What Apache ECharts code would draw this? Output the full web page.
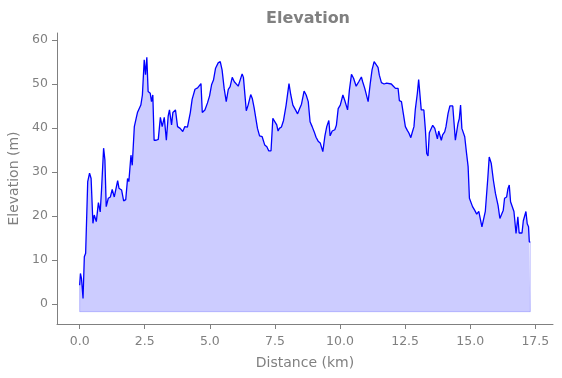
<!DOCTYPE html>
<html>
<head>
<meta charset="utf-8">
<script src="https://cdn.jsdelivr.net/npm/echarts@6/dist/echarts.min.js"></script>
<style>
html, body { margin: 0; padding: 0; background: #fff; }
#chart { width: 562px; height: 378px; }
</style>
</head>
<body>
<div id="chart"></div>
<script>
// distance along the route (km)
const dist = [
  0, 0.03, 0.07, 0.13, 0.18, 0.23, 0.31, 0.38, 0.44, 0.51,
  0.56, 0.64, 0.72, 0.79, 0.84, 0.92, 0.97, 1.02, 1.10, 1.18,
  1.25, 1.33, 1.46, 1.51, 1.61, 1.69, 1.77, 1.84, 1.89, 1.97,
  2.02, 2.10, 2.17, 2.22, 2.27, 2.35, 2.41, 2.48, 2.53, 2.58,
  2.63, 2.71, 2.76, 2.81, 2.86, 2.94, 3.02, 3.10, 3.17, 3.25,
  3.33, 3.40, 3.45, 3.53, 3.58, 3.68, 3.76, 3.86, 3.96, 4.04,
  4.14, 4.25, 4.32, 4.37, 4.43, 4.53, 4.60, 4.66, 4.71, 4.81,
  4.91, 4.99, 5.07, 5.14, 5.22, 5.32, 5.40, 5.47, 5.55, 5.63,
  5.71, 5.78, 5.86, 5.94, 6.01, 6.09, 6.17, 6.24, 6.29, 6.40,
  6.47, 6.57, 6.63, 6.70, 6.76, 6.83, 6.91, 7.01, 7.11, 7.19,
  7.26, 7.35, 7.42, 7.50, 7.57, 7.62, 7.67, 7.75, 7.83, 7.93,
  8.04, 8.11, 8.19, 8.29, 8.37, 8.45, 8.52, 8.57, 8.62, 8.70,
  8.78, 8.85, 8.93, 9.01, 9.08, 9.16, 9.24, 9.34, 9.42, 9.49,
  9.57, 9.62, 9.70, 9.80, 9.86, 9.93, 10.01, 10.11, 10.18, 10.29,
  10.36, 10.44, 10.52, 10.62, 10.72, 10.82, 10.87, 10.95, 11.00, 11.08,
  11.16, 11.23, 11.31, 11.38, 11.46, 11.51, 11.59, 11.69, 11.79, 11.97,
  12.05, 12.13, 12.23, 12.28, 12.36, 12.43, 12.51, 12.59, 12.64, 12.72,
  12.77, 12.84, 12.89, 12.97, 13.02, 13.07, 13.12, 13.22, 13.28, 13.33,
  13.38, 13.43, 13.48, 13.56, 13.64, 13.69, 13.74, 13.79, 13.84, 13.89,
  13.94, 14.02, 14.07, 14.15, 14.22, 14.33, 14.38, 14.43, 14.48, 14.53,
  14.58, 14.63, 14.68, 14.74, 14.79, 14.86, 14.92, 14.97, 15.02, 15.09,
  15.17, 15.25, 15.33, 15.40, 15.45, 15.50, 15.58, 15.63, 15.68, 15.73,
  15.81, 15.89, 15.97, 16.02, 16.07, 16.14, 16.19, 16.27, 16.32, 16.40,
  16.45, 16.50, 16.55, 16.60, 16.68, 16.76, 16.83, 16.88, 16.99, 17.04,
  17.09, 17.14, 17.19, 17.24, 17.27, 17.31
];
// elevation (m)
const elev = [
  4.2, 6.9, 5.8, 1.2, 10.7, 11.5, 27.8, 29.7, 28.5, 18.3,
  20.2, 18.7, 23.0, 20.9, 25.9, 35.4, 32.7, 22.1, 24.0, 24.3,
  26.0, 24.3, 28.0, 26.3, 25.9, 23.4, 23.7, 28.5, 27.8, 33.8,
  31.5, 40.3, 42.2, 43.5, 43.1, 45.2, 47.5, 55.5, 52.1, 56.1,
  48.3, 47.9, 46.0, 47.5, 37.2, 37.2, 37.4, 42.4, 40.3, 42.4,
  37.2, 42.7, 44.1, 40.7, 43.5, 44.1, 40.3, 39.9, 39.2, 40.3,
  40.2, 43.5, 46.5, 46.1, 48.8, 49.1, 49.4, 50.1, 43.5, 44.1,
  45.7, 47.3, 49.9, 50.9, 53.6, 54.8, 55.1, 53.2, 49.0, 46.0,
  48.8, 49.4, 51.5, 50.5, 50.7, 49.5, 51.0, 52.3, 51.5, 43.9,
  45.2, 47.6, 46.7, 44.6, 44.4, 39.9, 38.2, 38.0, 36.1, 35.7,
  34.8, 34.8, 42.2, 41.4, 40.7, 39.3, 39.9, 40.2, 41.7, 45.2,
  50.1, 47.5, 45.2, 44.1, 43.2, 44.4, 45.4, 45.2, 48.4, 47.5,
  46.0, 41.4, 40.3, 39.1, 37.9, 37.0, 36.6, 34.6, 38.2, 40.3,
  41.7, 38.2, 39.3, 39.6, 40.6, 44.4, 45.2, 47.5, 46.3, 44.1,
  48.6, 52.2, 51.3, 49.5, 50.5, 51.6, 50.5, 49.0, 48.6, 46.0,
  50.1, 53.2, 55.1, 54.7, 53.8, 52.0, 50.3, 50.0, 50.2, 50.0,
  49.5, 49.0, 49.0, 46.2, 46.0, 43.3, 40.3, 39.4, 38.9, 37.8,
  38.9, 40.3, 44.1, 47.9, 51.0, 51.0, 44.1, 44.1, 39.5, 34.2,
  33.6, 38.9, 39.1, 40.6, 39.9, 39.6, 37.5, 39.3, 39.5, 37.2,
  38.4, 39.1, 40.3, 43.3, 45.0, 45.0, 44.8, 37.2, 37.2, 41.0,
  42.1, 45.2, 39.9, 40.1, 38.0, 34.2, 31.2, 24.0, 23.6, 22.1,
  21.3, 20.4, 21.0, 21.0, 17.5, 17.4, 21.0, 21.0, 28.9, 33.4,
  31.9, 28.1, 25.1, 24.9, 22.4, 19.4, 19.2, 21.3, 24.0, 24.3,
  26.2, 27.0, 23.2, 22.8, 21.0, 16.0, 19.8, 16.1, 16.1, 18.9,
  19.2, 21.0, 18.2, 17.5, 14.1, 14.0
];
// floor of the shaded area (m)
const fillFloor = -1.8;

const xTicks = [0, 2.5, 5, 7.5, 10, 12.5, 15, 17.5];
const yTicks = [0, 10, 20, 30, 40, 50, 60];

const gray = '#808080';
const font = 'DejaVu Sans';

let chart = echarts.init(document.getElementById('chart'));

let lineData = dist.map((d, i) => [d, elev[i]]);
let last = dist.length - 1;
// outline of the shaded polygon (left side, bottom, right side)
let edgeData = [
  [dist[0], elev[0]], [dist[0], fillFloor],
  [dist[last], fillFloor], [dist[last], elev[last]]
];

let option = {
  animation: false,
  backgroundColor: '#fff',
  textStyle: { fontFamily: font },
  title: {
    text: 'Elevation',
    left: 261,
    top: 6,
    textStyle: { color: gray, fontSize: 16, fontWeight: 'bold', fontFamily: font }
  },
  grid: { left: 57, right: 9, top: 33, bottom: 54, outerBoundsMode: 'none' },
  xAxis: {
    type: 'value',
    min: -0.87,
    max: 18.18,
    name: 'Distance (km)',
    nameLocation: 'middle',
    nameGap: 32,
    nameTextStyle: { color: gray, fontSize: 14, fontFamily: font },
    splitLine: { show: false },
    axisLine: { show: true, onZero: false, lineStyle: { color: gray, width: 1 } },
    axisTick: { show: true, length: 5, customValues: xTicks, lineStyle: { color: gray } },
    axisLabel: {
      color: gray, fontSize: 12.5, margin: 11, fontFamily: font,
      customValues: xTicks,
      formatter: v => v.toFixed(1)
    }
  },
  yAxis: {
    type: 'value',
    min: -4.6,
    max: 61.6,
    name: 'Elevation (m)',
    nameLocation: 'middle',
    nameGap: 33,
    nameTextStyle: { color: gray, fontSize: 14, fontFamily: font },
    splitLine: { show: false },
    axisLine: { show: true, onZero: false, lineStyle: { color: gray, width: 1 } },
    axisTick: { show: true, length: 5, customValues: yTicks, lineStyle: { color: gray } },
    axisLabel: {
      color: gray, fontSize: 12.5, margin: 9, fontFamily: font,
      customValues: yTicks,
      formatter: v => String(v)
    }
  },
  series: [
    {
      type: 'line',
      data: edgeData,
      symbol: 'none',
      silent: true,
      z: 1,
      lineStyle: { color: 'rgba(0,0,255,0.2)', width: 1 }
    },
    {
      type: 'line',
      data: lineData,
      symbol: 'none',
      z: 2,
      lineStyle: { color: '#0000ff', width: 1.3 },
      areaStyle: { color: 'rgba(0,0,255,0.2)', origin: fillFloor, opacity: 1 }
    }
  ]
};

chart.setOption(option);
</script>
</body>
</html>
